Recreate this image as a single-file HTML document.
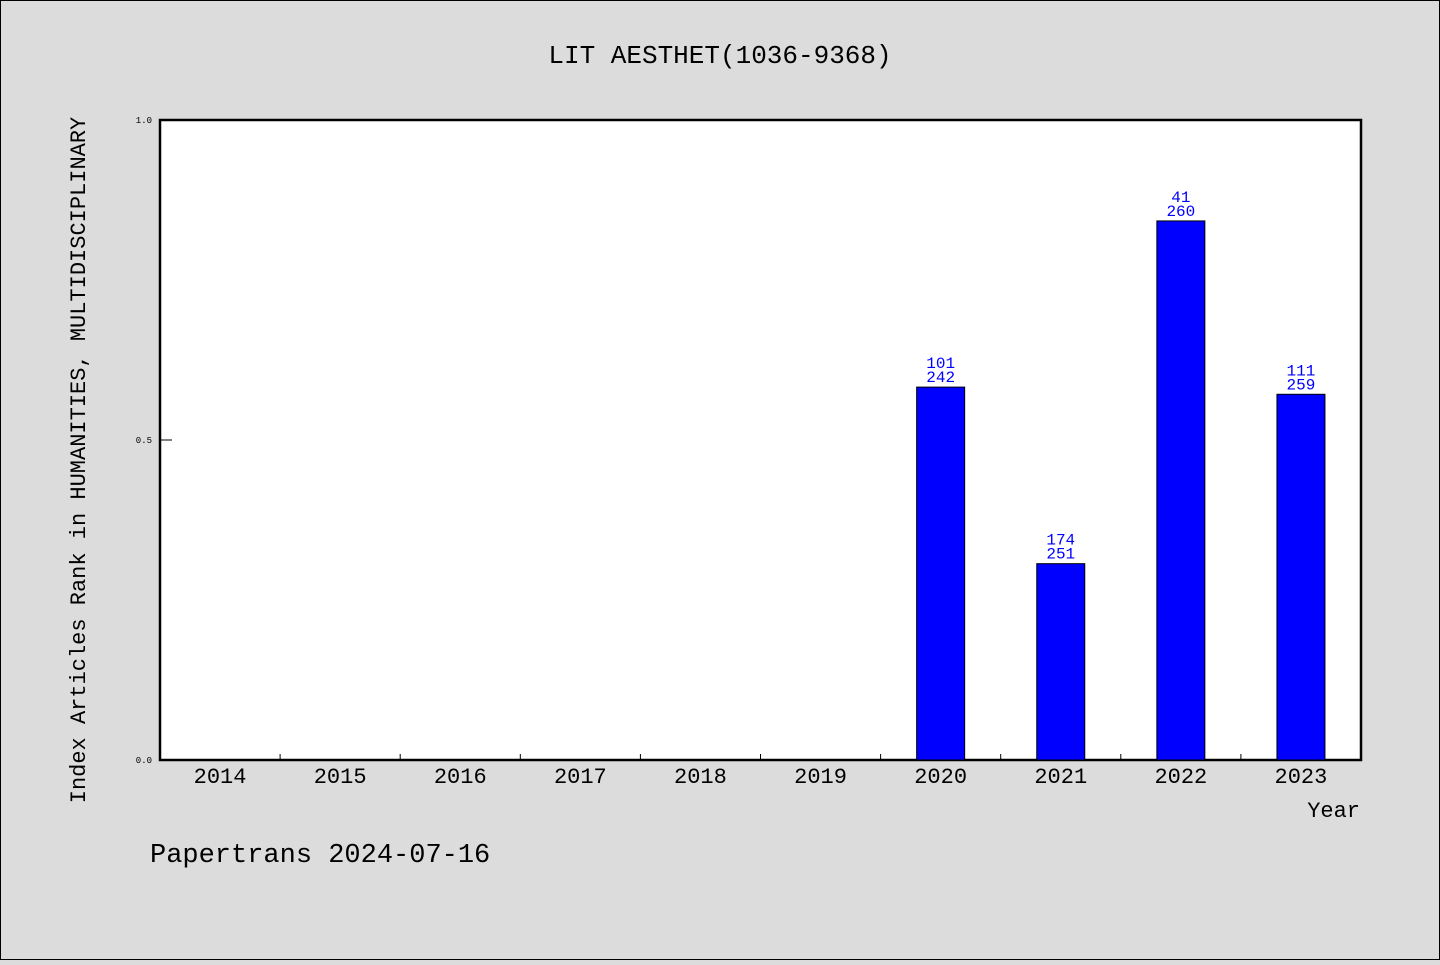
<!DOCTYPE html>
<html><head><meta charset="utf-8"><style>
body{margin:0;background:#dcdcdc;}
svg text{font-family:"WenQuanYi Zen Hei","Liberation Mono",monospace;}
</style></head><body>
<svg id="chart" width="1440" height="960" xmlns="http://www.w3.org/2000/svg">
<rect x="0.5" y="0.5" width="1439" height="959" fill="#dcdcdc" stroke="#000"/>
<text x="720" y="63" font-size="26" text-anchor="middle">LIT AESTHET(1036-9368)</text>
<rect x="160" y="120" width="1201" height="640" fill="#fff" stroke="#000" stroke-width="2.5"/>
<text transform="translate(85,460) rotate(-90)" font-size="22" text-anchor="middle">Index Articles Rank in HUMANITIES, MULTIDISCIPLINARY</text>
<text x="1360" y="817" font-size="22" text-anchor="end">Year</text>
<text x="150" y="862" font-size="27">Papertrans 2024-07-16</text>
<g id="marks"></g>
</svg>
<script>
const years=["2014","2015","2016","2017","2018","2019","2020","2021","2022","2023"];
const ranks=[null,null,null,null,null,null,101,174,41,111];
const totals=[null,null,null,null,null,null,242,251,260,259];
const yTicks=[0.0,0.5,1.0];
const NS="http://www.w3.org/2000/svg";
const g=document.getElementById('marks');
const L=160,R=1361,T=120,B=760;
const step=(R-L)/years.length;
const xC=i=>L+step*(i+0.5);
const yS=v=>B-(B-T)*v;
function mk(tag,attrs,txt){const e=document.createElementNS(NS,tag);for(const k in attrs)e.setAttribute(k,attrs[k]);if(txt!==undefined)e.textContent=txt;g.appendChild(e);return e;}
yTicks.forEach(t=>{
  const tk=mk('line',{x1:L,x2:L+12,y1:yS(t),y2:yS(t),stroke:'#000','stroke-width':1});
  
  
  const lb=mk('text',{x:L-8,y:yS(t)+3,'font-size':9,'text-anchor':'end'},t.toFixed(1));
  
  
});
years.forEach((y,i)=>{
  if(i>0){const tk=mk('line',{x1:L+step*i,x2:L+step*i,y1:B,y2:B-6,stroke:'#000','stroke-width':1});
  
  }
  const lb=mk('text',{x:xC(i),y:B+23,'font-size':22,'text-anchor':'middle'},y);
  
  
  if(ranks[i]!=null){
    const v=1-ranks[i]/totals[i];
    const bar=mk('rect',{x:xC(i)-24,y:yS(v),width:48,height:B-yS(v),fill:'#0000ff',stroke:'#000','stroke-width':1});
    
    
    const t1=mk('text',{x:xC(i),y:yS(v)-19,'font-size':16,'text-anchor':'middle',fill:'#0000ff'},String(ranks[i]));
    
    
    const t2=mk('text',{x:xC(i),y:yS(v)-5,'font-size':16,'text-anchor':'middle',fill:'#0000ff'},String(totals[i]));
    
    
  }
});
</script>
</body></html>
